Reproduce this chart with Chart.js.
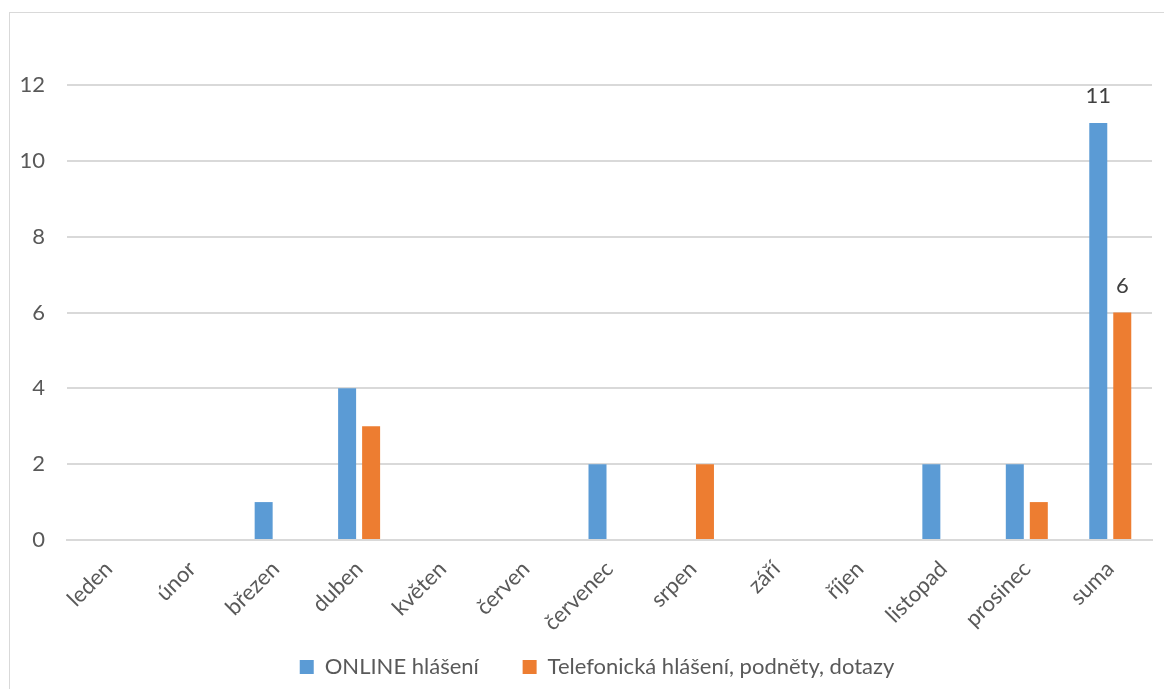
<!DOCTYPE html>
<html lang="cs">
<head>
<meta charset="utf-8">
<script src="https://cdn.jsdelivr.net/npm/chart.js@4/dist/chart.umd.min.js"></script>
<style>
  html, body { margin: 0; padding: 0; background: #fff; }
  #wrap { position: relative; width: 1164px; height: 689px; overflow: hidden; }
  #frame {
    position: absolute; left: 9px; top: 12px;
    width: 1200px; height: 700px;
    border: 1px solid #d9d9d9; box-sizing: border-box;
  }
  #graf { position: absolute; left: 0; top: 0; }
</style>
</head>
<body>
<div id="wrap">
  <div id="frame"></div>
  <canvas id="graf" width="1164" height="689"></canvas>
</div>
<script>
  const mesice = ["leden", "únor", "březen", "duben", "květen", "červen", "červenec",
    "srpen", "září", "říjen", "listopad", "prosinec", "suma"];
  const onlineHlaseni = [0, 0, 1, 4, 0, 0, 2, 0, 0, 0, 2, 2, 11];
  const telefonickaHlaseni = [0, 0, 0, 3, 0, 0, 0, 2, 0, 0, 0, 1, 6];
  // popisky hodnot jen u sloupců "suma"
  const popiskyIndex = [12];

  const pismo = "Lato, 'Open Sans', sans-serif";
  const sedaText = "#595959";

  // vypíše hodnotu nad vybranými sloupci
  const popiskyPlugin = {
    id: "popisky",
    afterDatasetsDraw(chart) {
      const ctx = chart.ctx;
      ctx.save();
      ctx.font = "22px " + pismo;
      ctx.fillStyle = "#404040";
      ctx.textAlign = "center";
      ctx.textBaseline = "alphabetic";
      chart.data.datasets.forEach((ds, i) => {
        const meta = chart.getDatasetMeta(i);
        popiskyIndex.forEach((idx) => {
          const bar = meta.data[idx];
          ctx.fillText(String(ds.data[idx]), bar.x, bar.y - 20);
        });
      });
      ctx.restore();
    },
  };

  // legenda centrovaná spíš na oblast grafu než na celé plátno
  const posunLegendy = {
    id: "posunLegendy",
    afterLayout(chart) {
      const leg = chart.legend;
      if (!leg) return;
      leg.left += 21;
      leg.right += 21;
    },
  };

  // mezera mezi položkami legendy (padding by zvětšil i výšku legendy)
  function legendaPolozky(chart) {
    const polozky = Chart.defaults.plugins.legend.labels.generateLabels(chart);
    polozky.forEach((p, i) => {
      if (i < polozky.length - 1) p.text = p.text + "      ";
    });
    return polozky;
  }

  const ctx = document.getElementById("graf").getContext("2d");
  new Chart(ctx, {
    type: "bar",
    data: {
      labels: mesice,
      datasets: [
        {
          label: "ONLINE hlášení",
          data: onlineHlaseni,
          backgroundColor: "#5B9BD5",
          categoryPercentage: 0.575,
          barPercentage: 0.75,
        },
        {
          label: "Telefonická hlášení, podněty, dotazy",
          data: telefonickaHlaseni,
          backgroundColor: "#ED7D31",
          categoryPercentage: 0.575,
          barPercentage: 0.75,
        },
      ],
    },
    options: {
      responsive: false,
      animation: false,
      layout: { padding: { top: 85, right: 12, left: 0, bottom: 1 } },
      plugins: {
        legend: {
          position: "bottom",
          labels: {
            font: { family: pismo, size: 22 },
            color: sedaText,
            boxWidth: 14,
            boxHeight: 14,
            padding: 10,
            generateLabels: legendaPolozky,
          },
        },
        tooltip: { enabled: false },
      },
      scales: {
        x: {
          grid: { display: false },
          border: { color: "#d9d9d9", width: 2 },
          ticks: {
            font: { family: pismo, size: 22 },
            color: sedaText,
            minRotation: 45,
            maxRotation: 45,
            padding: 8,
          },
          afterFit(scale) {
            scale.height = 106;
          },
        },
        y: {
          min: 0,
          max: 12,
          ticks: {
            stepSize: 2,
            font: { family: pismo, size: 22 },
            color: sedaText,
            padding: 22,
          },
          grid: { color: "#d9d9d9", lineWidth: 2, drawTicks: false },
          border: { display: false },
          afterFit(scale) {
            scale.width = 67;
          },
        },
      },
    },
    plugins: [popiskyPlugin, posunLegendy],
  });
</script>
</body>
</html>
